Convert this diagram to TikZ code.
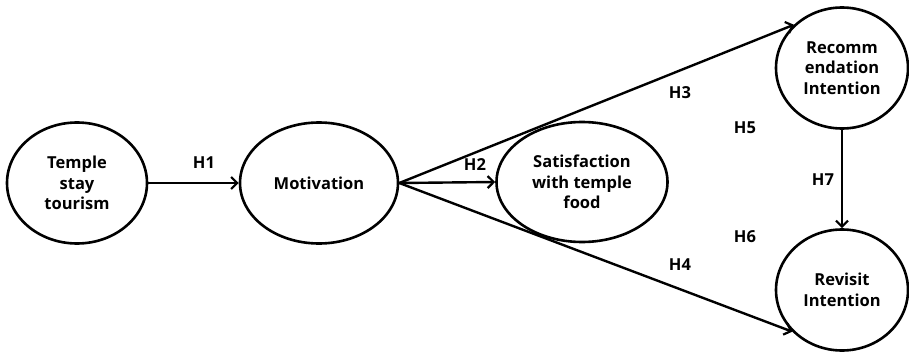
\documentclass[tikz,border=0pt]{standalone}
\usepackage{fontspec}
\setmainfont{Open Sans}
\usetikzlibrary{shapes.geometric,arrows.meta}
\begin{document}
\begin{tikzpicture}[x=1pt,y=-1pt,
  var/.style={draw,ellipse,line width=2.6pt,inner sep=0pt,align=center,font=\fontsize{16.5}{20.5}\selectfont\bfseries},
  conn/.style={line width=2.4pt,-{Straight Barb[length=6pt,width=12pt,line width=2.2pt]}},
  lab/.style={font=\fontsize{16.5}{18}\selectfont\bfseries,inner sep=0pt}]
\useasboundingbox (0,0) rectangle (909,353);
\node[var,minimum width=140pt,minimum height=121pt] (tst) at (77,183) {Temple\\stay\\tourism};
\node[var,minimum width=158pt,minimum height=121pt] (mot) at (319,183) {Motivation};
\node[var,minimum width=171pt,minimum height=120pt] (sat) at (582,182) {Satisfaction\\with temple\\food};
\node[var,minimum width=132pt,minimum height=121pt] (rec) at (842,68) {Recomm\\endation\\Intention};
\node[var,minimum width=132pt,minimum height=121pt] (rev) at (842,290) {Revisit\\Intention};
\draw[conn] (tst.east) -- (mot.west);
\draw[conn] (mot.east) -- (sat.west);
\draw[conn] (mot.east) -- (rec.138);
\draw[conn] (mot.east) -- (rev.220);
\draw[conn] (rec.south) -- (rev.north);
\node[lab] (h1) at (204,163) {H1};
\node[lab] (h2) at (475,165) {H2};
\node[lab] (h3) at (680,93) {H3};
\node[lab] (h4) at (680,265) {H4};
\node[lab] (h5) at (745,128) {H5};
\node[lab] (h6) at (745,237) {H6};
\node[lab] (h7) at (823,180) {H7};
\end{tikzpicture}
\end{document}
